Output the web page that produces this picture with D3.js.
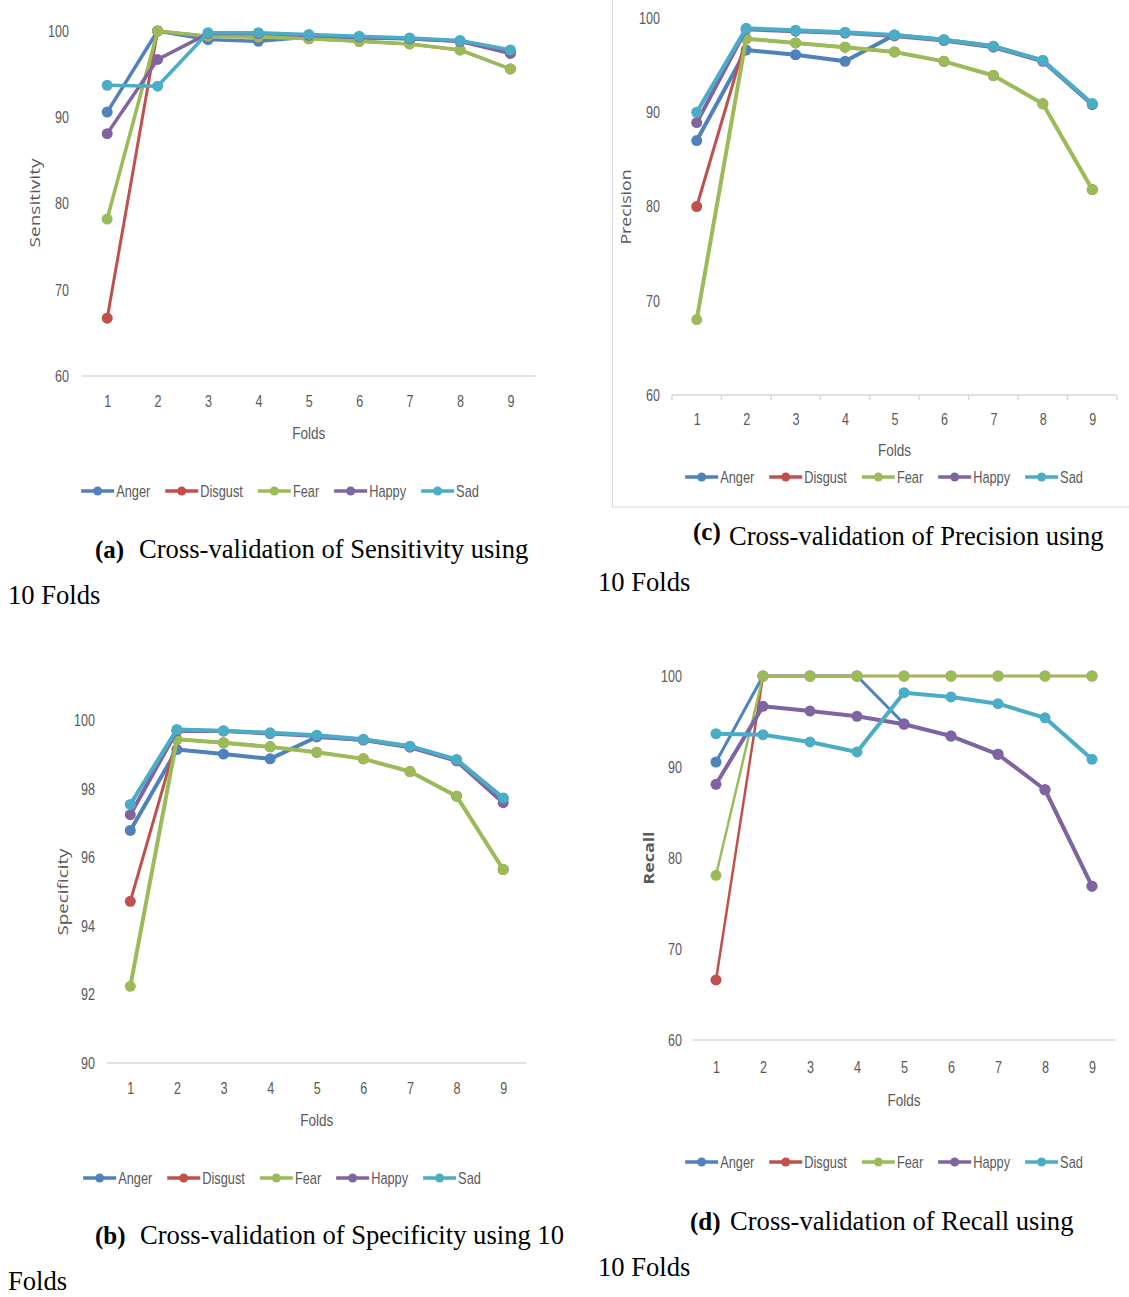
<!DOCTYPE html>
<html><head><meta charset="utf-8">
<script src="https://cdn.jsdelivr.net/npm/d3@7"></script>
<style>
body{margin:0;background:#fff;}
svg{display:block}
</style></head><body>
<svg id="c" width="1129" height="1297"></svg>
<script>
// ---------- data ----------
const folds = [1,2,3,4,5,6,7,8,9];
const emotions = ["Anger","Disgust","Fear","Happy","Sad"];
const emotionColors = ["#4F81BD","#C0504D","#9BBB59","#8064A2","#4BACC6"];

const sensitivityTicks = [60,70,80,90,100];
const sensitivityAnger   = [90.6,100,99.0,98.8,99.3,99.2,99.1,98.8,97.6];
const sensitivityDisgust = [66.7,100,99.4,99.3,99.1,98.8,98.5,97.8,95.6];
const sensitivityFear    = [78.2,100,99.4,99.3,99.1,98.8,98.5,97.8,95.6];
const sensitivityHappy   = [88.1,96.7,99.7,99.7,99.5,99.3,99.1,98.8,97.4];
const sensitivitySad     = [93.7,93.6,99.8,99.8,99.6,99.4,99.2,98.9,97.8];

const precisionTicks = [60,70,80,90,100];
const precisionAnger   = [87.0,96.6,96.1,95.4,98.2,97.7,97.0,95.5,90.9];
const precisionDisgust = [80.0,97.8,97.35,96.9,96.4,95.4,93.9,90.9,81.8];
const precisionFear    = [68.0,97.8,97.35,96.9,96.4,95.4,93.9,90.9,81.8];
const precisionHappy   = [88.9,98.8,98.6,98.4,98.1,97.6,96.9,95.4,90.8];
const precisionSad     = [90.0,98.9,98.7,98.5,98.2,97.7,97.0,95.5,90.9];

const specificityTicks = [90,92,94,96,98,100];
const specificityAnger   = [96.79,99.15,99.02,98.88,99.52,99.44,99.24,98.85,97.72];
const specificityDisgust = [94.72,99.45,99.35,99.23,99.07,98.88,98.51,97.79,95.65];
const specificityFear    = [92.24,99.45,99.35,99.23,99.07,98.88,98.51,97.79,95.65];
const specificityHappy   = [97.25,99.7,99.69,99.62,99.55,99.43,99.22,98.82,97.6];
const specificitySad     = [97.55,99.74,99.70,99.64,99.57,99.45,99.25,98.86,97.74];

const recallTicks = [60,70,80,90,100];
const recallAnger   = [90.55,100,100,100,94.76,93.4,91.4,87.5,76.9];
const recallDisgust = [66.6,100,100,100,100,100,100,100,100];
const recallFear    = [78.1,100,100,100,100,100,100,100,100];
const recallHappy   = [88.1,96.67,96.15,95.57,94.69,93.4,91.4,87.5,76.9];
const recallSad     = [93.66,93.55,92.75,91.65,98.17,97.7,96.96,95.4,90.84];

// ---------- layout ----------
const tickFont = "'Liberation Sans',Arial,sans-serif";
const titleFont = "'Open Sans','Noto Sans','DejaVu Sans',sans-serif";
const serif = "'Liberation Serif','Times New Roman',serif";
const grey = "#595959";

const panels = [
  {name:"Sensitivity", ticks:sensitivityTicks, series:[sensitivityAnger,sensitivityDisgust,sensitivityFear,sensitivityHappy,sensitivitySad],
   x0:82, x1:535.6, yTop:31, yBot:376, labelRight:69, tickY:401, titleX:34, titleY:203, titleLen:89,
   foldsY:433, legendY:491, legendCx:280, letter:"(a)", letterX:95, capText:"Cross-validation of Sensitivity using", capX:139, capY:549,
   line2:"10 Folds", line2X:8, line2Y:595, tickMarks:false, lw:[3.5,3,3.5,3.5,3.5]},
  {name:"Precision", ticks:precisionTicks, series:[precisionAnger,precisionDisgust,precisionFear,precisionHappy,precisionSad],
   x0:672, x1:1117, yTop:18, yBot:395, labelRight:660, tickY:419, titleX:625, titleY:207, titleLen:75,
   foldsY:450, legendY:477, legendCx:884, letter:"(c)", letterX:693, capText:"Cross-validation of Precision using", capX:729, capY:536, letterDy:-5,
   line2:"10 Folds", line2X:598, line2Y:582, tickMarks:true, border:true, lw:[4,3,4,4,4]},
  {name:"Specificity", ticks:specificityTicks, series:[specificityAnger,specificityDisgust,specificityFear,specificityHappy,specificitySad],
   x0:107, x1:526.5, yTop:720.5, yBot:1063, labelRight:95, tickY:1088, titleX:62, titleY:892, titleLen:87,
   foldsY:1120, legendY:1178, legendCx:282, letter:"(b)", letterX:95, capText:"Cross-validation of Specificity using 10", capX:140, capY:1235,
   line2:"Folds", line2X:8, line2Y:1281, tickMarks:false, lw:[4,3,4,4,4]},
  {name:"Recall", ticks:recallTicks, series:[recallAnger,recallDisgust,recallFear,recallHappy,recallSad],
   x0:692.5, x1:1115.5, yTop:676, yBot:1040, labelRight:682, tickY:1067, titleX:648, titleY:858, titleLen:53, titleBold:true,
   foldsY:1100, legendY:1162, legendCx:884, letter:"(d)", letterX:690, capText:"Cross-validation of Recall using", capX:730, capY:1221,
   line2:"10 Folds", line2X:598, line2Y:1267, tickMarks:false, lw:[3,2.5,2.5,4,4]}
];

const svg = d3.select("#c");
const TICK_SX = 0.74, LEG_SX = 0.8;

panels.forEach(p => {
  const g = svg.append("g");
  const x = d3.scalePoint().domain(folds).range([p.x0, p.x1]).padding(0.5);
  const y = d3.scaleLinear().domain([d3.min(p.ticks), d3.max(p.ticks)]).range([p.yBot, p.yTop]);

  if (p.border) {
    g.append("rect").attr("x",612.5).attr("y",-5).attr("width",540).attr("height",512)
      .attr("fill","none").attr("stroke","#d9d9d9").attr("stroke-width",1);
  }

  // baseline
  g.append("line").attr("x1",p.x0).attr("x2",p.x1).attr("y1",p.yBot).attr("y2",p.yBot)
    .attr("stroke","#d9d9d9").attr("stroke-width",1.5);
  if (p.tickMarks) {
    const step = x.step();
    d3.range(folds.length+1).forEach(i => {
      g.append("line").attr("x1",p.x0+i*step).attr("x2",p.x0+i*step)
        .attr("y1",p.yBot).attr("y2",p.yBot+5).attr("stroke","#d9d9d9").attr("stroke-width",1.5);
    });
  }

  // y tick labels
  const ya = g.append("g").attr("transform",`translate(${p.labelRight},0)`)
    .call(d3.axisLeft(y).tickValues(p.ticks).tickSize(0).tickPadding(0).tickFormat(d3.format("d")));
  ya.select(".domain").remove();
  ya.selectAll("text").attr("font-family",tickFont).attr("font-size",17).attr("fill",grey)
    .attr("x",0).attr("transform",`scale(${TICK_SX},1)`);

  // x tick labels
  const xa = g.append("g").attr("transform",`translate(0,${p.tickY})`)
    .call(d3.axisBottom(x).tickSize(0).tickPadding(0));
  xa.select(".domain").remove();
  xa.selectAll("text").attr("font-family",tickFont).attr("font-size",17).attr("fill",grey)
    .attr("y",0).attr("dy","0.35em").attr("transform",`scale(${TICK_SX},1)`);

  // axis titles
  g.append("text").attr("transform",`translate(${p.titleX},${p.titleY}) rotate(-90)`)
    .attr("text-anchor","middle").attr("dominant-baseline","central")
    .attr("font-family",titleFont).attr("font-size",15).attr("fill",grey)
    .attr("font-weight",p.titleBold?"bold":"normal")
    .attr("textLength",p.titleLen).attr("lengthAdjust","spacingAndGlyphs").text(p.name);
  g.append("text").attr("transform",`translate(${(p.x0+p.x1)/2},${p.foldsY}) scale(0.8,1)`)
    .attr("text-anchor","middle").attr("dominant-baseline","central")
    .attr("font-family",tickFont).attr("font-size",17).attr("fill",grey).text("Folds");

  // series
  const line = d3.line().x((d,i)=>x(folds[i])).y(d=>y(d));
  p.series.forEach((vals,si) => {
    const sg = g.append("g");
    sg.append("path").attr("d",line(vals)).attr("fill","none").attr("stroke",emotionColors[si])
      .attr("stroke-width",p.lw[si]).attr("stroke-linejoin","round").attr("stroke-linecap","round");
    sg.selectAll("circle").data(vals).join("circle")
      .attr("cx",(d,i)=>x(folds[i])).attr("cy",d=>y(d)).attr("r",5.5).attr("fill",emotionColors[si]);
  });

  // legend
  const lg = g.append("g");
  let cx = 0;
  emotions.forEach((e,i) => {
    const it = lg.append("g");
    it.append("line").attr("x1",0).attr("x2",33).attr("y1",0).attr("y2",0)
      .attr("stroke",emotionColors[i]).attr("stroke-width",3.5);
    it.append("circle").attr("cx",16.5).attr("cy",0).attr("r",4.5).attr("fill",emotionColors[i]);
    const t = it.append("text").attr("transform",`translate(35,0) scale(${LEG_SX},1)`)
      .attr("dominant-baseline","central")
      .attr("font-family",tickFont).attr("font-size",16).attr("fill",grey).text(e);
    const w = t.node().getComputedTextLength() * LEG_SX;
    it.attr("transform",`translate(${cx},${p.legendY})`);
    cx += 35 + w + 15;
  });
  const total = cx - 15;
  lg.attr("transform",`translate(${p.legendCx - total/2},0)`);

  // caption
  g.append("text").attr("x",p.letterX).attr("y",p.capY + 9 + (p.letterDy||0))
    .attr("font-family",serif).attr("font-size",25).attr("font-weight","bold").attr("fill","#000").text(p.letter);
  g.append("text").attr("x",p.capX).attr("y",p.capY + 9)
    .attr("font-family",serif).attr("font-size",26.6).attr("fill","#000").text(p.capText);
  g.append("text").attr("x",p.line2X).attr("y",p.line2Y + 9)
    .attr("font-family",serif).attr("font-size",26.6).attr("fill","#000").text(p.line2);
});
</script>
</body></html>
